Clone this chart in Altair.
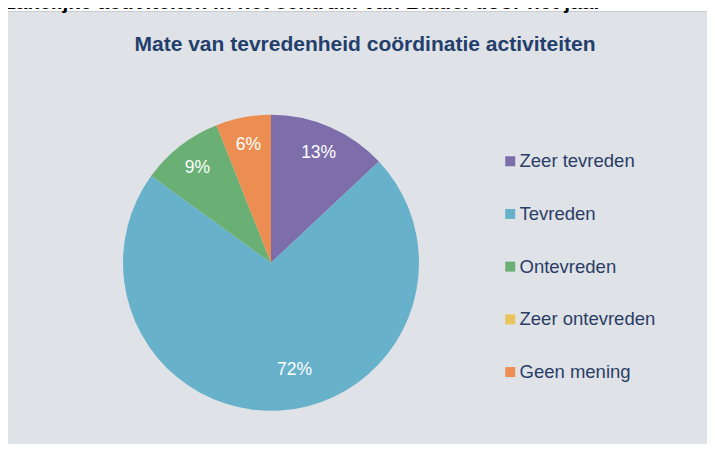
import altair as alt
import pandas as pd

categories = ["Zeer tevreden", "Tevreden", "Ontevreden", "Zeer ontevreden", "Geen mening"]
values = [13, 72, 9, 0, 6]
colors = ["#7D6EAB", "#67B1CB", "#6AAF73", "#E8C45A", "#EC8E51"]

chart_title = "Mate van tevredenheid coördinatie activiteiten"
page_heading = "Zakelijke activiteiten in het centrum van Bladel door het jaar"

df = pd.DataFrame({
    "categorie": categories,
    "waarde": values,
    "idx": list(range(len(categories))),
})
df["label"] = [f"{v}%" if v > 0 else "" for v in values]

FONT = "Liberation Sans"
CX, CY, R = 263, 254.8, 148

base = alt.Chart(df)

box = alt.Chart(pd.DataFrame({"a": [0]})).mark_rect(
    fill="#DFE2E6", stroke="#C9CCD0", strokeWidth=1
).encode(
    x=alt.value(-2.5), x2=alt.value(730), y=alt.value(3.5), y2=alt.value(470)
)

heading = alt.Chart(pd.DataFrame({"t": [page_heading]})).mark_text(
    font=FONT, fontSize=21, fontWeight="bold", color="#000000",
    align="left", baseline="alphabetic"
).encode(x=alt.value(-5), y=alt.value(0.5), text="t:N")

title = alt.Chart(pd.DataFrame({"t": [chart_title]})).mark_text(
    font=FONT, fontSize=21, fontWeight="bold", color="#243F6B",
    align="center", baseline="middle"
).encode(x=alt.value(357), y=alt.value(37), text="t:N")

pie = base.mark_arc(outerRadius=R, stroke=None).encode(
    theta=alt.Theta("waarde:Q", stack=True),
    color=alt.Color(
        "categorie:N",
        scale=alt.Scale(domain=categories, range=colors),
        sort=categories,
        legend=alt.Legend(
            title=None, orient="none", legendX=493, legendY=144,
            symbolType="square", symbolSize=100, symbolStrokeWidth=0,
            labelFont=FONT, labelFontSize=18.5, labelColor="#2A3D66",
            labelOffset=0, rowPadding=33.7, padding=0, symbolOffset=0,
            labelLimit=300,
        ),
    ),
    order=alt.Order("idx:Q"),
    x=alt.value(CX), y=alt.value(CY),
)

labels = base.mark_text(
    radius=120, font=FONT, fontSize=17.5, color="white",
    align="center", baseline="middle"
).encode(
    theta=alt.Theta("waarde:Q", stack=True),
    detail="categorie:N",
    order=alt.Order("idx:Q"),
    text=alt.Text("lbl:N"),
    x=alt.value(CX), y=alt.value(CY),
).transform_calculate(
    lbl="datum.categorie == 'Tevreden' ? '' : datum.label"
)

label_big = base.mark_text(
    radius=120, font=FONT, fontSize=17.5, color="white",
    align="center", baseline="middle", dx=16, dy=-13
).encode(
    theta=alt.Theta("waarde:Q", stack=True),
    detail="categorie:N",
    order=alt.Order("idx:Q"),
    text=alt.Text("lbl:N"),
    x=alt.value(CX), y=alt.value(CY),
).transform_calculate(
    lbl="datum.categorie == 'Tevreden' ? datum.label : ''"
)

chart = alt.layer(box, heading, title, pie, labels, label_big).properties(
    width=699, height=436,
    autosize=alt.AutoSizeParams(type="none"),
    padding=0,
    background="white",
).configure_view(stroke=None)

chart.save("out.html", embed_options={"renderer": "svg", "actions": False})
